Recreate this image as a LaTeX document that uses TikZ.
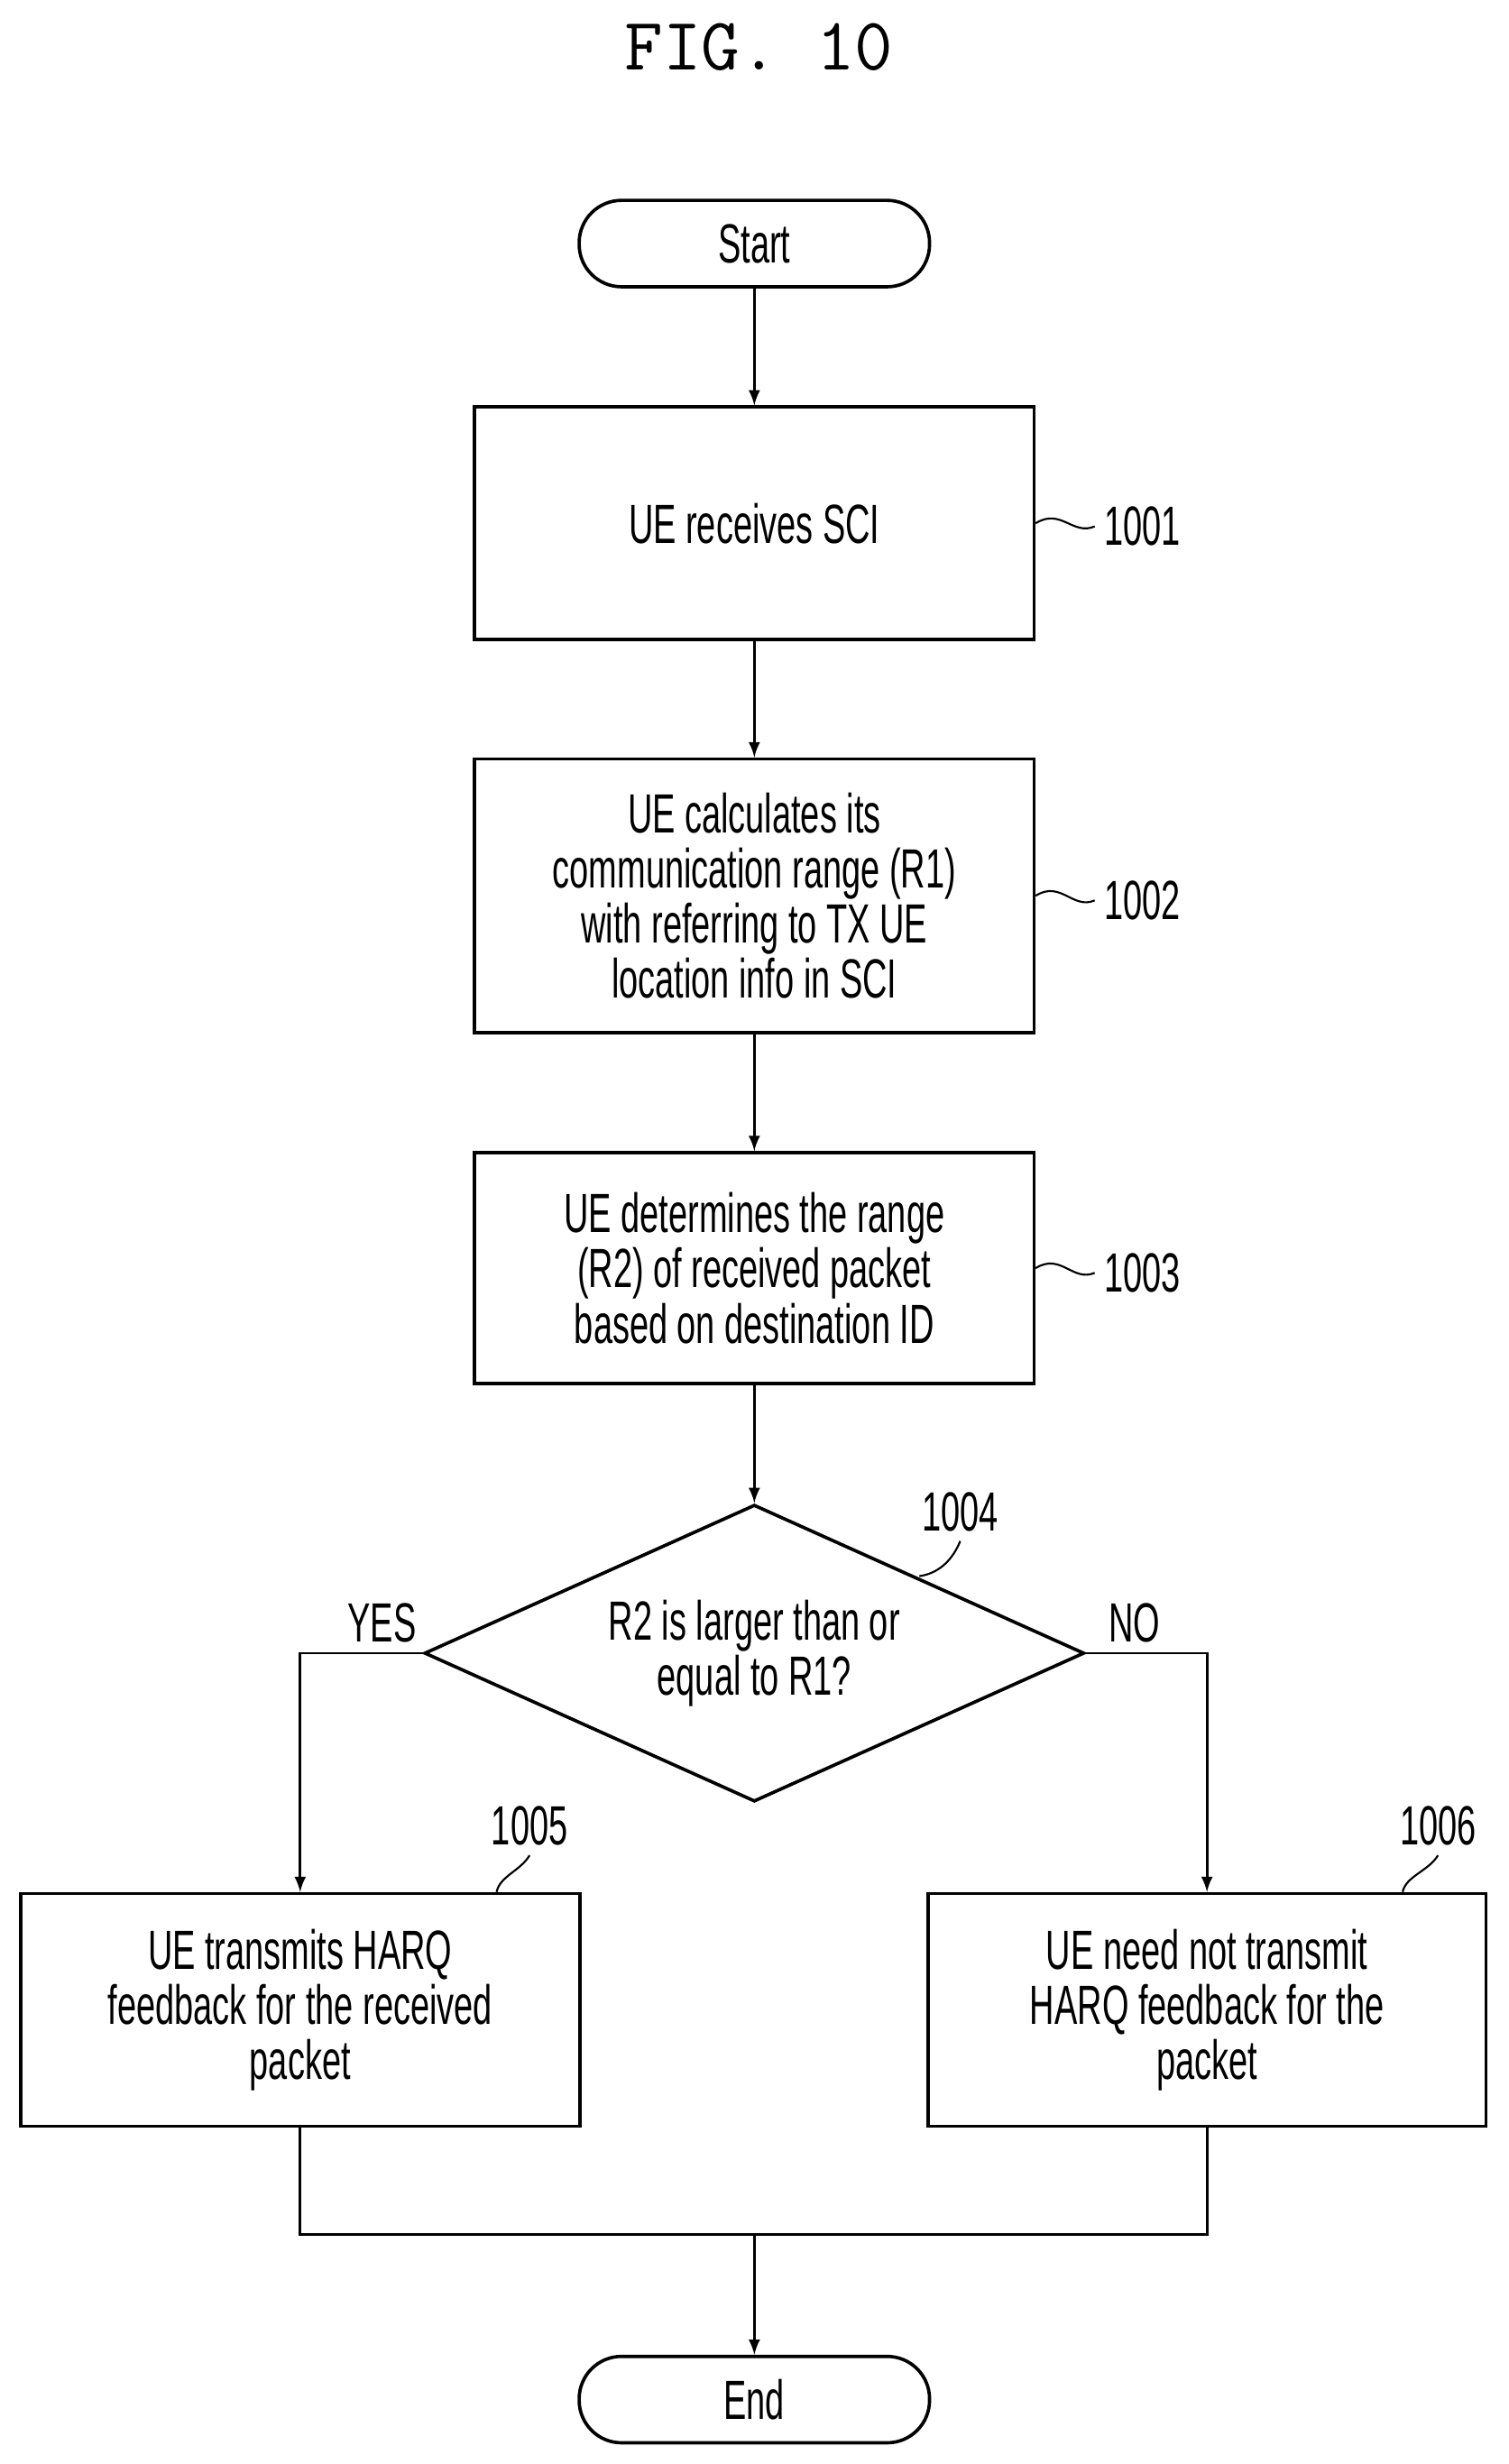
\documentclass[tikz,border=0pt]{standalone}
\usepackage{fontspec}
\setmainfont{Liberation Sans}[FakeStretch=0.62]
\usetikzlibrary{shapes.geometric}
\begin{document}
\begin{tikzpicture}[x=0.02cm,y=0.02cm]
\tikzset{box/.style = {draw, line width=1.2pt, align=center, font=\fontsize{20}{20}\selectfont, inner sep=0pt}}
\tikzset{term/.style = {box, rounded corners=0.54cm, minimum width=4.46cm, minimum height=1.1cm}}
\tikzset{edge/.style = {->,> = latex, line width=.9 pt}}
\tikzset{tag/.style = {font=\fontsize{20}{20}\selectfont}}
\tikzset{squig/.style = {line width=.7pt}}
\useasboundingbox (0,0) rectangle (960,-1568);

\node[font=\ttfamily\fontsize{27}{30}\selectfont] (title) at (483,-30) {FIG. 10};

\node[term] (start) at (480,-155) {Start};
\node[box, minimum width=7.12cm, minimum height=2.96cm] (s1) at (480,-333) {UE receives SCI};
\node[box, minimum width=7.12cm, minimum height=3.48cm] (s2) at (480,-570) {UE calculates its\\communication range (R1)\\with referring to TX UE\\location info in SCI};
\node[box, minimum width=7.12cm, minimum height=2.94cm] (s3) at (480,-807) {UE determines the range\\(R2) of received packet\\based on destination ID};
\node[box, diamond, aspect=2.22, minimum width=8.4cm, minimum height=3.78cm] (d4) at (480,-1052) {R2 is larger than or\\equal to R1?};
\node[box, minimum width=7.12cm, minimum height=2.96cm] (s5) at (191,-1279) {UE transmits HARQ\\feedback for the received\\packet};
\node[box, minimum width=7.1cm, minimum height=2.96cm] (s6) at (768,-1279) {UE need not transmit\\HARQ feedback for the\\packet};
\node[term] (end) at (480,-1527) {End};

% step labels
\node[tag] (l1) at (727,-335) {1001};
\node[tag] (l2) at (727,-573) {1002};
\node[tag] (l3) at (727,-810) {1003};
\node[tag] (l4) at (611,-962) {1004};
\node[tag] (l5) at (337,-1162) {1005};
\node[tag] (l6) at (915,-1162) {1006};
\node[tag] (yes) at (243,-1033) {YES};
\node[tag] (no) at (722,-1033) {NO};

\foreach \b/\l in {s1/l1, s2/l2, s3/l3}
  {\draw[squig] (\b.east) .. controls +(16,10) and +(-14,-6) .. (\l.west);}
\draw[squig] (585,-1003) .. controls +(14,2) and +(-4,-10) .. (l4.south);
\draw[squig] (s5.north east) ++(-54,0) coordinate (c5) .. controls +(2,10) and +(-6,-10) .. (l5.south);
\draw[squig] (s6.north east) ++(-54,0) coordinate (c6) .. controls +(2,10) and +(-6,-10) .. (l6.south);

\draw[edge] (start) -- (s1);
\draw[edge] (s1) -- (s2);
\draw[edge] (s2) -- (s3);
\draw[edge] (s3) -- (d4);
\draw[edge] (d4.west) -| (s5.north);
\draw[edge] (d4.east) -| (s6.north);
\coordinate (m) at (480,-1422);
\draw[line width=.9pt] (s5.south) |- (m) -| (s6.south);
\draw[edge] (m) -- (end);
\end{tikzpicture}
\end{document}
